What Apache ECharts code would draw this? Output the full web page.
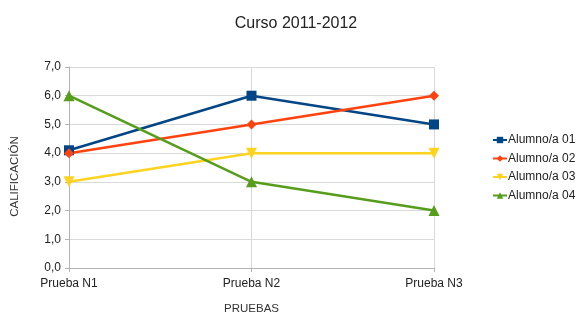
<!DOCTYPE html>
<html>
<head>
<meta charset="utf-8">
<script src="https://cdn.jsdelivr.net/npm/echarts@6/dist/echarts.min.js"></script>
<style>
  html, body { margin: 0; padding: 0; background: #fff; }
  #chart { width: 584px; height: 315px; }
</style>
</head>
<body>
<div id="chart"></div>
<script>
const categories = ['Prueba N1', 'Prueba N2', 'Prueba N3'];
const alumno01 = [4.1, 6, 5];
const alumno02 = [4, 5, 6];
const alumno03 = [3, 4, 4];
const alumno04 = [6, 3, 2];

const font = 'Liberation Sans, Arial, sans-serif';

function line(name, data, color, symbol, size) {
  return {
    name: name,
    type: 'line',
    data: data,
    symbol: symbol,
    symbolSize: size,
    lineStyle: { color: color, width: 2.5 },
    itemStyle: { color: color },
    emphasis: { disabled: true }
  };
}

const chart = echarts.init(document.getElementById('chart'));
chart.setOption({
  animation: false,
  title: {
    text: 'Curso 2011-2012',
    left: 291,
    textAlign: 'center',
    top: 11,
    textStyle: { fontFamily: font, fontSize: 16, fontWeight: 'normal', color: '#222' }
  },
  legend: {
    orient: 'vertical',
    left: 487,
    top: 129,
    itemGap: 6.5,
    itemWidth: 14,
    itemHeight: 8,
    textStyle: { fontFamily: font, fontSize: 12, color: '#222', padding: [0, 0, 0, -4] },
    data: ['Alumno/a 01', 'Alumno/a 02', 'Alumno/a 03', 'Alumno/a 04']
  },
  grid: { left: 69, right: 150, top: 67, bottom: 47, outerBoundsMode: 'none' },
  xAxis: {
    type: 'category',
    data: categories,
    boundaryGap: false,
    name: 'PRUEBAS',
    nameLocation: 'middle',
    nameGap: 35,
    nameTextStyle: { fontFamily: font, fontSize: 11.5, color: '#333' },
    axisLine: { lineStyle: { color: '#b3b3b3' } },
    axisTick: { show: true, length: 4, lineStyle: { color: '#b3b3b3' } },
    axisLabel: { fontFamily: font, fontSize: 12, color: '#222', margin: 10 },
    splitLine: { show: true, lineStyle: { color: '#d9d9d9' } }
  },
  yAxis: {
    type: 'value',
    min: 0,
    max: 7,
    interval: 1,
    name: 'CALIFICACIÓN',
    nameLocation: 'middle',
    nameGap: 48,
    nameTextStyle: { fontFamily: font, fontSize: 11.5, color: '#333', padding: [0, 18, 0, 0] },
    axisLine: { show: true, lineStyle: { color: '#b3b3b3' } },
    axisTick: { show: true, length: 4, lineStyle: { color: '#b3b3b3' } },
    axisLabel: {
      fontFamily: font, fontSize: 12, color: '#222', margin: 8,
      formatter: function (v) { return v.toFixed(1).replace('.', ','); }
    },
    splitLine: { show: true, lineStyle: { color: '#d9d9d9' } }
  },
  series: [
    line('Alumno/a 01', alumno01, '#004586', 'rect', 10),
    line('Alumno/a 02', alumno02, '#ff420e', 'diamond', 10),
    line('Alumno/a 03', alumno03, '#ffd320', 'path://M0,0 L10,0 L5,9 Z', 11),
    line('Alumno/a 04', alumno04, '#579d1c', 'triangle', 11)
  ]
});
</script>
</body>
</html>
